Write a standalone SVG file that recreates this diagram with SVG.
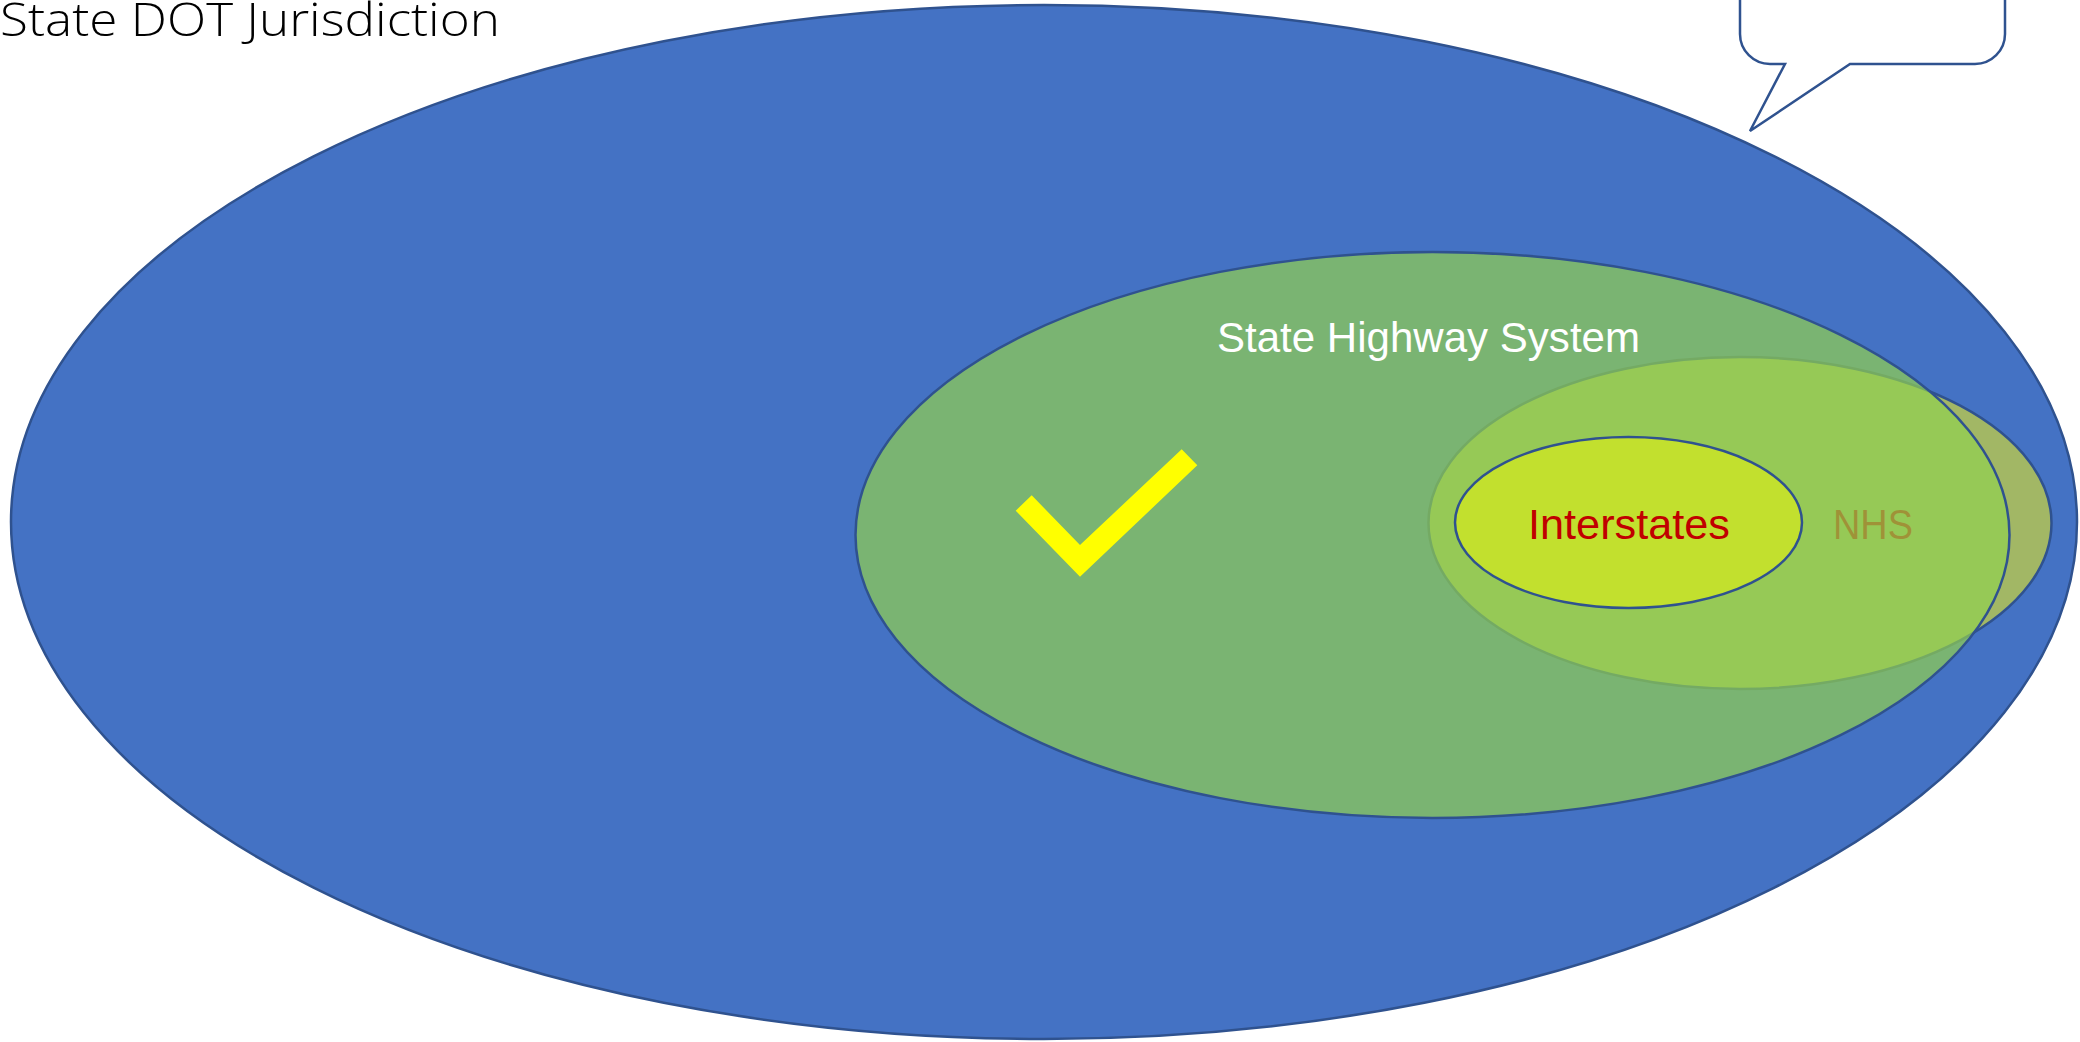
<svg xmlns="http://www.w3.org/2000/svg" width="2080" height="1042" viewBox="0 0 2080 1042">
<style>
  .lbl { font-family: "Liberation Sans", Arial, sans-serif; font-size: 42px; }
  .outline { stroke: #2F528F; stroke-width: 2.5; }
</style>
<rect x="0" y="0" width="2080" height="1042" fill="#FFFFFF"/>
<g id="state-dot-jurisdiction">
  <ellipse class="outline" cx="1044" cy="522" rx="1033" ry="517" fill="#4472C4"/>
  <text x="0" y="36" font-family="'Open Sans', 'Liberation Sans', sans-serif" font-weight="300" font-size="46" fill="#000000" textLength="500" lengthAdjust="spacingAndGlyphs">State DOT Jurisdiction</text>
</g>
<g id="callout">
  <path class="outline" d="M1740,-10 L1740,34 A30,30 0 0 0 1770,64 L1785,64 L1750,131 L1850,64 L1975,64 A30,30 0 0 0 2005,34 L2005,-10" fill="#FFFFFF"/>
</g>
<g id="nhs">
  <ellipse class="outline" cx="1740" cy="523" rx="311.5" ry="166" fill="#A2B765"/>
  <text class="lbl" x="1873" y="539" text-anchor="middle" fill="#C00000" textLength="80" lengthAdjust="spacingAndGlyphs">NHS</text>
</g>
<g id="state-highway-system">
  <ellipse cx="1432.5" cy="535" rx="577" ry="283" fill="#92D050" fill-opacity="0.7"/>
  <ellipse class="outline" cx="1432.5" cy="535" rx="577" ry="283" fill="none"/>
  <text class="lbl" x="1217" y="352" fill="#FFFFFF" textLength="423" lengthAdjust="spacingAndGlyphs">State Highway System</text>
  <polygon points="1015.7,510.7 1031.7,495.3 1080,545 1181.7,449.3 1197.3,465.3 1080,576.7" fill="#FFFF00"/>
</g>
<g id="interstates">
  <ellipse class="outline" cx="1628.5" cy="522.5" rx="173.5" ry="85.5" fill="#C2E02E"/>
  <text class="lbl" x="1629" y="539" text-anchor="middle" fill="#C00000" textLength="202" lengthAdjust="spacingAndGlyphs">Interstates</text>
</g>
<g id="connectors"/>
</svg>
